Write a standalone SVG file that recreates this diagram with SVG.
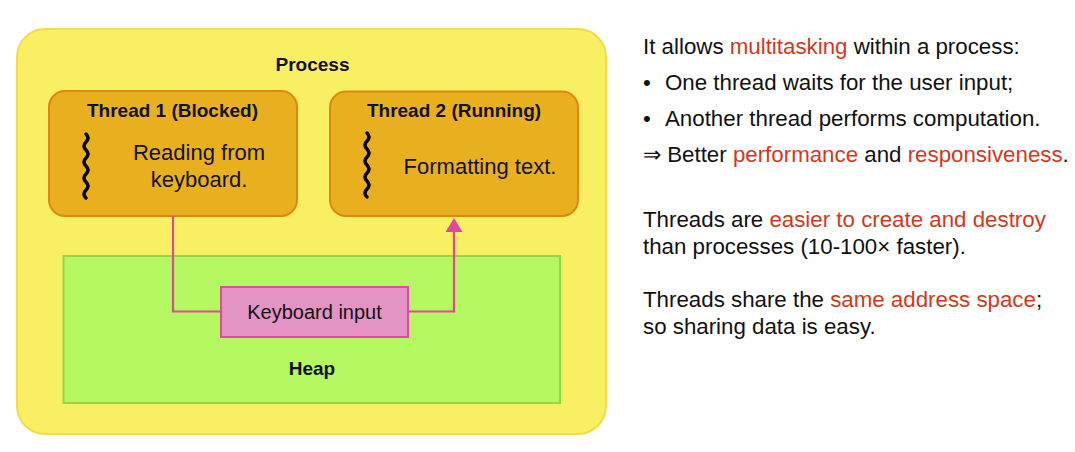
<svg xmlns="http://www.w3.org/2000/svg" width="1075" height="452" viewBox="0 0 1075 452">
<style>
text{font-family:"Liberation Sans",Arial,sans-serif;fill:#111}
.title{font-size:19px;font-weight:bold;text-anchor:middle}
.body{font-size:22px;text-anchor:middle}
.side{font-size:22.3px}
.red{fill:#d03a1c}
.thread{fill:#e8b01f;stroke:#e0870f;stroke-width:2}
.wave{fill:none;stroke:#000;stroke-width:3.4;stroke-linecap:round}
.conn{fill:none;stroke:#e0479e;stroke-width:2.2}
</style>
<defs>
<marker id="ah" markerUnits="userSpaceOnUse" markerWidth="14" markerHeight="17" viewBox="0 0 14 17" refX="0" refY="8.5" orient="auto">
<path d="M0,0 L14,8.5 L0,17 Z" fill="#e0479e"/>
</marker>
</defs>
<rect width="1075" height="452" fill="#fff"/>
<g id="process">
<rect x="17" y="29" width="589" height="405" rx="28" fill="#f9ef63" stroke="#f3dc48" stroke-width="2"/>
<text class="title" x="312.5" y="71">Process</text>
</g>
<g id="heap">
<rect x="63.5" y="256" width="496.5" height="147" fill="#b5f760" stroke="#93d54b" stroke-width="2"/>
<text class="title" x="312" y="375">Heap</text>
</g>
<g id="thread1">
<rect class="thread" x="49" y="91" width="248" height="125" rx="16"/>
<text class="title" x="172.5" y="116.5">Thread 1 (Blocked)</text>
<path class="wave" d="M86,134 q4,4 0,8 q-4,4 0,8 q4,4 0,8 q-4,4 0,8 q4,4 0,8 q-4,4 0,8 q4,4 0,8 q-4,4 0,8"/>
<text class="body" x="199" y="160">Reading from</text>
<text class="body" x="199" y="187">keyboard.</text>
</g>
<g id="thread2">
<rect class="thread" x="330" y="91.5" width="248" height="124.5" rx="16"/>
<text class="title" x="454" y="116.5">Thread 2 (Running)</text>
<path class="wave" d="M367,133 q4,4 0,8 q-4,4 0,8 q4,4 0,8 q-4,4 0,8 q4,4 0,8 q-4,4 0,8 q4,4 0,8 q-4,4 0,8"/>
<text class="body" x="480" y="173.5">Formatting text.</text>
</g>
<g id="keyboard-input">
<rect x="221" y="287" width="187" height="50" fill="#e393c4" stroke="#e04aa5" stroke-width="2"/>
<text x="314.5" y="318.5" style="font-size:20px;text-anchor:middle">Keyboard input</text>
</g>
<g id="connectors">
<path class="conn" d="M173,216 V311.5 H221"/>
<path class="conn" d="M408,311.5 H454 V232" marker-end="url(#ah)"/>
</g>
<g id="notes">
<text class="side" x="643" y="54">It allows <tspan class="red">multitasking</tspan> within a process:</text>
<text class="side" x="643" y="90">•</text>
<text class="side" x="665" y="90">One thread waits for the user input;</text>
<text class="side" x="643" y="126">•</text>
<text class="side" x="665" y="126">Another thread performs computation.</text>
<text class="side" x="643" y="161.5">⇒ Better <tspan class="red">performance</tspan> and <tspan class="red">responsiveness</tspan>.</text>
<text class="side" x="643" y="227">Threads are <tspan class="red">easier to create and destroy</tspan></text>
<text class="side" x="643" y="253.5">than processes (10-100× faster).</text>
<text class="side" x="643" y="307">Threads share the <tspan class="red">same address space</tspan>;</text>
<text class="side" x="643" y="333.5">so sharing data is easy.</text>
</g>
</svg>
